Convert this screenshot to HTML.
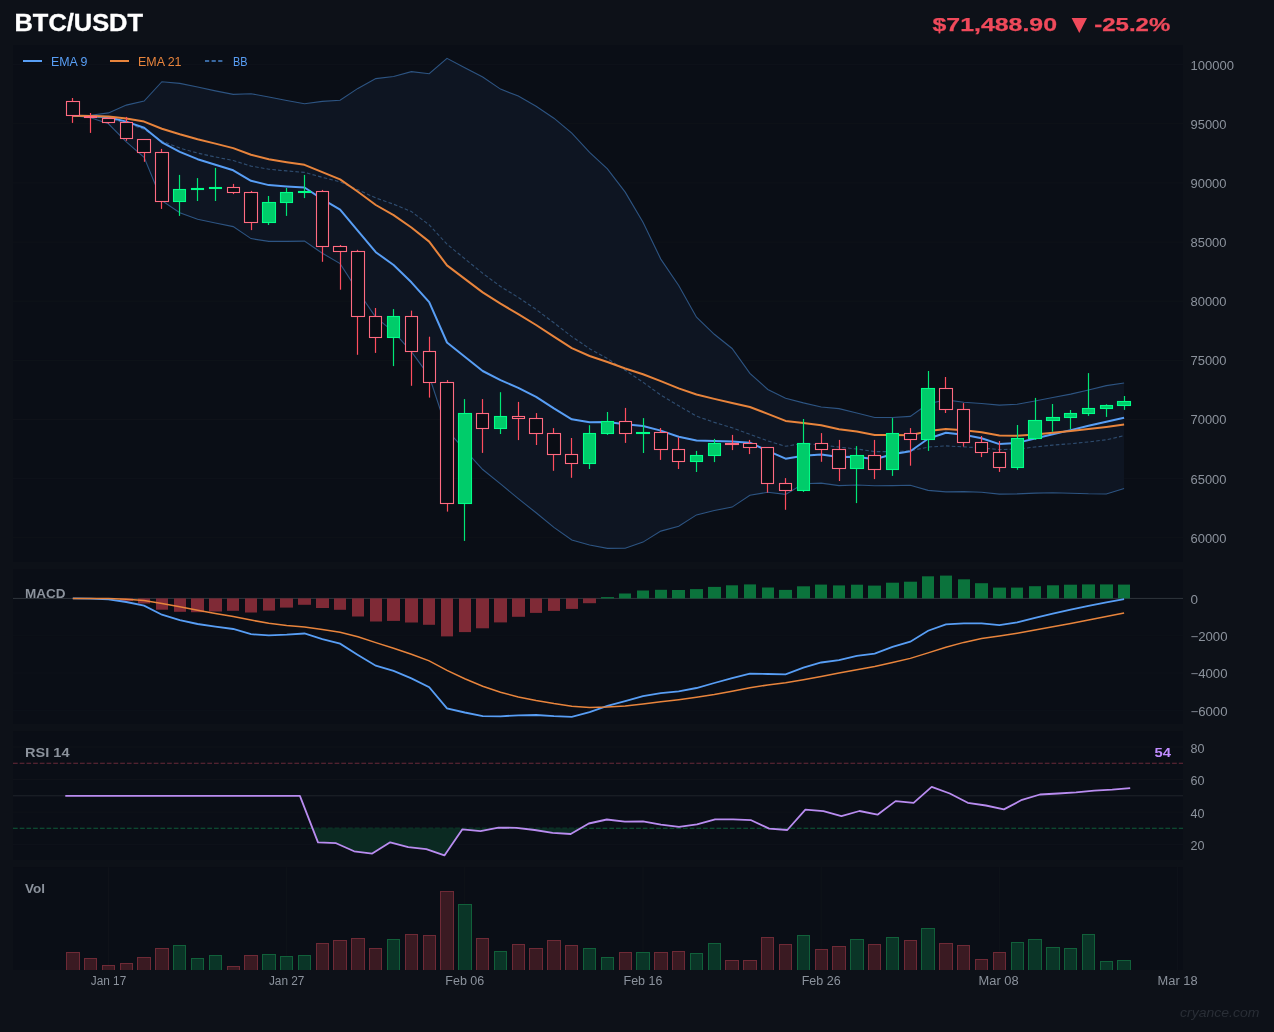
<!DOCTYPE html>
<html><head><meta charset="utf-8"><title>BTC/USDT</title>
<style>html,body{margin:0;padding:0;background:#0d1118;width:1274px;height:1032px;overflow:hidden}</style>
</head><body>

<svg width="1274" height="1032" viewBox="0 0 1274 1032" style="display:block;will-change:transform">
<rect width="1274" height="1032" fill="#0d1118"/>
<rect x="13" y="45" width="1170" height="517" fill="#0a0e16"/>
<rect x="13" y="569.4" width="1170" height="154.60000000000002" fill="#0a0e16"/>
<rect x="13" y="731.2" width="1170" height="128.79999999999995" fill="#0a0e16"/>
<rect x="13" y="867.1" width="1170" height="102.89999999999998" fill="#0a0e16"/>
<line x1="108.5" y1="867.1" x2="108.5" y2="970" stroke="#10141b" stroke-width="0.8"/>
<line x1="286.7" y1="867.1" x2="286.7" y2="970" stroke="#10141b" stroke-width="0.8"/>
<line x1="464.8" y1="867.1" x2="464.8" y2="970" stroke="#10141b" stroke-width="0.8"/>
<line x1="643.0" y1="867.1" x2="643.0" y2="970" stroke="#10141b" stroke-width="0.8"/>
<line x1="821.2" y1="867.1" x2="821.2" y2="970" stroke="#10141b" stroke-width="0.8"/>
<line x1="999.4" y1="867.1" x2="999.4" y2="970" stroke="#10141b" stroke-width="0.8"/>
<line x1="1177.6" y1="867.1" x2="1177.6" y2="970" stroke="#10141b" stroke-width="0.8"/>
<line x1="13" y1="537.8" x2="1183" y2="537.8" stroke="#10141b" stroke-width="0.8"/>
<line x1="13" y1="478.6" x2="1183" y2="478.6" stroke="#10141b" stroke-width="0.8"/>
<line x1="13" y1="419.5" x2="1183" y2="419.5" stroke="#10141b" stroke-width="0.8"/>
<line x1="13" y1="360.4" x2="1183" y2="360.4" stroke="#10141b" stroke-width="0.8"/>
<line x1="13" y1="301.2" x2="1183" y2="301.2" stroke="#10141b" stroke-width="0.8"/>
<line x1="13" y1="242.1" x2="1183" y2="242.1" stroke="#10141b" stroke-width="0.8"/>
<line x1="13" y1="182.9" x2="1183" y2="182.9" stroke="#10141b" stroke-width="0.8"/>
<line x1="13" y1="123.8" x2="1183" y2="123.8" stroke="#10141b" stroke-width="0.8"/>
<line x1="13" y1="64.6" x2="1183" y2="64.6" stroke="#10141b" stroke-width="0.8"/>
<polygon points="72.8,115.8 90.7,115.2 108.5,112.9 126.3,105.1 144.1,101.0 161.9,81.7 179.8,83.4 197.6,87.0 215.4,90.9 233.2,94.4 251.0,93.7 268.8,97.0 286.7,100.5 304.5,103.7 322.3,101.4 340.1,100.2 357.9,88.4 375.8,78.6 393.6,76.5 411.4,71.6 429.2,73.7 447.0,58.3 464.8,67.8 482.7,77.0 500.5,89.1 518.3,96.1 536.1,106.3 553.9,118.2 571.8,133.2 589.6,152.4 607.4,168.9 625.2,192.1 643.0,222.3 660.8,259.1 678.7,285.5 696.5,317.2 714.3,334.3 732.1,348.5 749.9,373.4 767.8,389.5 785.6,398.2 803.4,402.9 821.2,407.0 839.0,408.6 856.8,413.0 874.7,417.5 892.5,417.5 910.3,416.4 928.1,403.8 945.9,399.9 963.8,402.2 981.6,403.5 999.4,405.1 1017.2,404.3 1035.0,401.0 1052.8,397.5 1070.7,394.1 1088.5,390.0 1106.3,385.6 1124.1,383.0 1124.1,488.5 1106.3,494.0 1088.5,493.8 1070.7,493.2 1052.8,492.8 1035.0,493.1 1017.2,493.9 999.4,494.1 981.6,492.2 963.8,491.6 945.9,491.9 928.1,490.4 910.3,485.3 892.5,485.6 874.7,485.7 856.8,485.0 839.0,485.6 821.2,483.1 803.4,483.7 785.6,494.4 767.8,492.3 749.9,495.2 732.1,507.1 714.3,510.5 696.5,514.9 678.7,526.2 660.8,531.1 643.0,542.1 625.2,548.2 607.4,548.4 589.6,545.0 571.8,540.0 553.9,527.4 536.1,512.8 518.3,498.6 500.5,483.9 482.7,469.5 464.8,449.8 447.0,430.1 429.2,376.1 411.4,351.6 393.6,331.9 375.8,317.4 357.9,291.2 340.1,263.6 322.3,253.2 304.5,241.1 286.7,241.4 268.8,241.4 251.0,238.6 233.2,226.6 215.4,223.0 197.6,219.3 179.8,212.7 161.9,200.6 144.1,157.3 126.3,141.8 108.5,123.8 90.7,117.7 72.8,115.8" fill="#0e1522"/>
<polyline points="72.8,115.8 90.7,115.2 108.5,112.9 126.3,105.1 144.1,101.0 161.9,81.7 179.8,83.4 197.6,87.0 215.4,90.9 233.2,94.4 251.0,93.7 268.8,97.0 286.7,100.5 304.5,103.7 322.3,101.4 340.1,100.2 357.9,88.4 375.8,78.6 393.6,76.5 411.4,71.6 429.2,73.7 447.0,58.3 464.8,67.8 482.7,77.0 500.5,89.1 518.3,96.1 536.1,106.3 553.9,118.2 571.8,133.2 589.6,152.4 607.4,168.9 625.2,192.1 643.0,222.3 660.8,259.1 678.7,285.5 696.5,317.2 714.3,334.3 732.1,348.5 749.9,373.4 767.8,389.5 785.6,398.2 803.4,402.9 821.2,407.0 839.0,408.6 856.8,413.0 874.7,417.5 892.5,417.5 910.3,416.4 928.1,403.8 945.9,399.9 963.8,402.2 981.6,403.5 999.4,405.1 1017.2,404.3 1035.0,401.0 1052.8,397.5 1070.7,394.1 1088.5,390.0 1106.3,385.6 1124.1,383.0" fill="none" stroke="#2d5482" stroke-width="1.1"/>
<polyline points="72.8,115.8 90.7,117.7 108.5,123.8 126.3,141.8 144.1,157.3 161.9,200.6 179.8,212.7 197.6,219.3 215.4,223.0 233.2,226.6 251.0,238.6 268.8,241.4 286.7,241.4 304.5,241.1 322.3,253.2 340.1,263.6 357.9,291.2 375.8,317.4 393.6,331.9 411.4,351.6 429.2,376.1 447.0,430.1 464.8,449.8 482.7,469.5 500.5,483.9 518.3,498.6 536.1,512.8 553.9,527.4 571.8,540.0 589.6,545.0 607.4,548.4 625.2,548.2 643.0,542.1 660.8,531.1 678.7,526.2 696.5,514.9 714.3,510.5 732.1,507.1 749.9,495.2 767.8,492.3 785.6,494.4 803.4,483.7 821.2,483.1 839.0,485.6 856.8,485.0 874.7,485.7 892.5,485.6 910.3,485.3 928.1,490.4 945.9,491.9 963.8,491.6 981.6,492.2 999.4,494.1 1017.2,493.9 1035.0,493.1 1052.8,492.8 1070.7,493.2 1088.5,493.8 1106.3,494.0 1124.1,488.5" fill="none" stroke="#2d5482" stroke-width="1.1"/>
<polyline points="72.8,115.8 90.7,116.4 108.5,118.3 126.3,123.4 144.1,129.2 161.9,141.1 179.8,148.1 197.6,153.1 215.4,157.0 233.2,160.5 251.0,166.1 268.8,169.2 286.7,170.9 304.5,172.4 322.3,177.3 340.1,181.9 357.9,189.8 375.8,198.0 393.6,204.2 411.4,211.6 429.2,224.9 447.0,244.2 464.8,258.8 482.7,273.3 500.5,286.5 518.3,297.4 536.1,309.5 553.9,322.8 571.8,336.6 589.6,348.7 607.4,358.6 625.2,370.2 643.0,382.2 660.8,395.1 678.7,405.8 696.5,416.1 714.3,422.4 732.1,427.8 749.9,434.3 767.8,440.9 785.6,446.3 803.4,443.3 821.2,445.1 839.0,447.1 856.8,449.0 874.7,451.6 892.5,451.6 910.3,450.8 928.1,447.1 945.9,445.9 963.8,446.9 981.6,447.9 999.4,449.6 1017.2,449.1 1035.0,447.0 1052.8,445.1 1070.7,443.7 1088.5,441.9 1106.3,439.8 1124.1,435.7" fill="none" stroke="#2f4d70" stroke-width="1.1" stroke-dasharray="3.6 2.2"/>
<polyline points="72.8,115.8 90.7,116.0 108.5,117.3 126.3,121.6 144.1,127.7 161.9,142.3 179.8,151.8 197.6,159.2 215.4,164.8 233.2,170.3 251.0,180.8 268.8,185.1 286.7,186.5 304.5,187.5 322.3,199.2 340.1,209.6 357.9,230.9 375.8,252.2 393.6,265.0 411.4,282.3 429.2,302.2 447.0,342.5 464.8,356.7 482.7,371.0 500.5,380.2 518.3,387.8 536.1,396.9 553.9,408.4 571.8,419.3 589.6,422.2 607.4,422.1 625.2,424.3 643.0,426.0 660.8,430.6 678.7,436.7 696.5,440.5 714.3,441.1 732.1,441.6 749.9,442.7 767.8,450.8 785.6,458.7 803.4,455.7 821.2,454.4 839.0,457.1 856.8,456.8 874.7,459.3 892.5,454.2 910.3,451.2 928.1,438.7 945.9,432.8 963.8,434.7 981.6,438.2 999.4,444.1 1017.2,442.9 1035.0,438.5 1052.8,434.3 1070.7,430.1 1088.5,425.8 1106.3,421.7 1124.1,417.7" fill="none" stroke="#589ef5" stroke-width="2" stroke-linejoin="round"/>
<polyline points="72.8,115.8 90.7,115.9 108.5,116.5 126.3,118.5 144.1,121.6 161.9,128.8 179.8,134.3 197.6,139.3 215.4,143.6 233.2,148.1 251.0,154.8 268.8,159.2 286.7,162.2 304.5,164.8 322.3,172.2 340.1,179.4 357.9,191.8 375.8,205.0 393.6,215.1 411.4,227.5 429.2,241.6 447.0,265.4 464.8,278.9 482.7,292.4 500.5,303.7 518.3,314.1 536.1,325.0 553.9,336.7 571.8,348.2 589.6,356.0 607.4,362.0 625.2,368.5 643.0,374.3 660.8,381.1 678.7,388.4 696.5,394.5 714.3,398.9 732.1,403.0 749.9,407.0 767.8,413.9 785.6,420.9 803.4,422.9 821.2,425.3 839.0,429.2 856.8,431.6 874.7,435.0 892.5,434.9 910.3,435.3 928.1,431.1 945.9,429.1 963.8,430.3 981.6,432.3 999.4,435.5 1017.2,435.7 1035.0,434.4 1052.8,432.8 1070.7,431.1 1088.5,429.0 1106.3,426.9 1124.1,424.6" fill="none" stroke="#e8843c" stroke-width="2" stroke-linejoin="round"/>
<line x1="72.5" y1="98.0" x2="72.5" y2="122.9" stroke="#ff4d5e" stroke-width="1.2"/>
<line x1="90.5" y1="113.0" x2="90.5" y2="132.9" stroke="#ff4d5e" stroke-width="1.2"/>
<line x1="108.5" y1="117.6" x2="108.5" y2="123.7" stroke="#ff4d5e" stroke-width="1.2"/>
<line x1="126.5" y1="116.9" x2="126.5" y2="140.8" stroke="#ff4d5e" stroke-width="1.2"/>
<line x1="144.5" y1="139.3" x2="144.5" y2="161.8" stroke="#ff4d5e" stroke-width="1.2"/>
<line x1="161.5" y1="148.9" x2="161.5" y2="208.9" stroke="#ff4d5e" stroke-width="1.2"/>
<line x1="179.5" y1="174.9" x2="179.5" y2="215.9" stroke="#00e676" stroke-width="1.2"/>
<line x1="197.5" y1="178.1" x2="197.5" y2="201.0" stroke="#00e676" stroke-width="1.2"/>
<line x1="215.5" y1="167.9" x2="215.5" y2="201.0" stroke="#00e676" stroke-width="1.2"/>
<line x1="233.5" y1="183.9" x2="233.5" y2="194.1" stroke="#ff4d5e" stroke-width="1.2"/>
<line x1="251.5" y1="190.9" x2="251.5" y2="230.1" stroke="#ff4d5e" stroke-width="1.2"/>
<line x1="268.5" y1="196.0" x2="268.5" y2="225.0" stroke="#00e676" stroke-width="1.2"/>
<line x1="286.5" y1="188.0" x2="286.5" y2="215.9" stroke="#00e676" stroke-width="1.2"/>
<line x1="304.5" y1="174.9" x2="304.5" y2="198.1" stroke="#00e676" stroke-width="1.2"/>
<line x1="322.5" y1="189.9" x2="322.5" y2="261.8" stroke="#ff4d5e" stroke-width="1.2"/>
<line x1="340.5" y1="245.0" x2="340.5" y2="289.7" stroke="#ff4d5e" stroke-width="1.2"/>
<line x1="357.5" y1="249.8" x2="357.5" y2="354.8" stroke="#ff4d5e" stroke-width="1.2"/>
<line x1="375.5" y1="308.0" x2="375.5" y2="352.9" stroke="#ff4d5e" stroke-width="1.2"/>
<line x1="393.5" y1="309.1" x2="393.5" y2="366.1" stroke="#00e676" stroke-width="1.2"/>
<line x1="411.5" y1="310.6" x2="411.5" y2="385.8" stroke="#ff4d5e" stroke-width="1.2"/>
<line x1="429.5" y1="336.7" x2="429.5" y2="397.6" stroke="#ff4d5e" stroke-width="1.2"/>
<line x1="447.5" y1="380.1" x2="447.5" y2="511.6" stroke="#ff4d5e" stroke-width="1.2"/>
<line x1="464.5" y1="399.1" x2="464.5" y2="540.9" stroke="#00e676" stroke-width="1.2"/>
<line x1="482.5" y1="399.1" x2="482.5" y2="452.9" stroke="#ff4d5e" stroke-width="1.2"/>
<line x1="500.5" y1="392.2" x2="500.5" y2="434.0" stroke="#00e676" stroke-width="1.2"/>
<line x1="518.5" y1="401.9" x2="518.5" y2="440.1" stroke="#ff4d5e" stroke-width="1.2"/>
<line x1="536.5" y1="413.1" x2="536.5" y2="445.0" stroke="#ff4d5e" stroke-width="1.2"/>
<line x1="553.5" y1="428.1" x2="553.5" y2="470.8" stroke="#ff4d5e" stroke-width="1.2"/>
<line x1="571.5" y1="438.0" x2="571.5" y2="477.8" stroke="#ff4d5e" stroke-width="1.2"/>
<line x1="589.5" y1="425.2" x2="589.5" y2="469.0" stroke="#00e676" stroke-width="1.2"/>
<line x1="607.5" y1="412.0" x2="607.5" y2="434.9" stroke="#00e676" stroke-width="1.2"/>
<line x1="625.5" y1="407.9" x2="625.5" y2="442.9" stroke="#ff4d5e" stroke-width="1.2"/>
<line x1="643.5" y1="418.1" x2="643.5" y2="453.0" stroke="#00e676" stroke-width="1.2"/>
<line x1="660.5" y1="428.0" x2="660.5" y2="459.9" stroke="#ff4d5e" stroke-width="1.2"/>
<line x1="678.5" y1="437.4" x2="678.5" y2="469.0" stroke="#ff4d5e" stroke-width="1.2"/>
<line x1="696.5" y1="450.9" x2="696.5" y2="472.0" stroke="#00e676" stroke-width="1.2"/>
<line x1="714.5" y1="438.9" x2="714.5" y2="462.1" stroke="#00e676" stroke-width="1.2"/>
<line x1="732.5" y1="434.9" x2="732.5" y2="450.1" stroke="#ff4d5e" stroke-width="1.2"/>
<line x1="749.5" y1="439.9" x2="749.5" y2="454.1" stroke="#ff4d5e" stroke-width="1.2"/>
<line x1="767.5" y1="447.0" x2="767.5" y2="492.6" stroke="#ff4d5e" stroke-width="1.2"/>
<line x1="785.5" y1="478.1" x2="785.5" y2="509.8" stroke="#ff4d5e" stroke-width="1.2"/>
<line x1="803.5" y1="419.0" x2="803.5" y2="491.9" stroke="#00e676" stroke-width="1.2"/>
<line x1="821.5" y1="433.1" x2="821.5" y2="461.8" stroke="#ff4d5e" stroke-width="1.2"/>
<line x1="839.5" y1="439.9" x2="839.5" y2="481.0" stroke="#ff4d5e" stroke-width="1.2"/>
<line x1="856.5" y1="446.1" x2="856.5" y2="503.1" stroke="#00e676" stroke-width="1.2"/>
<line x1="874.5" y1="439.9" x2="874.5" y2="479.1" stroke="#ff4d5e" stroke-width="1.2"/>
<line x1="892.5" y1="418.1" x2="892.5" y2="475.9" stroke="#00e676" stroke-width="1.2"/>
<line x1="910.5" y1="428.1" x2="910.5" y2="465.7" stroke="#ff4d5e" stroke-width="1.2"/>
<line x1="928.5" y1="371.0" x2="928.5" y2="450.9" stroke="#00e676" stroke-width="1.2"/>
<line x1="945.5" y1="377.0" x2="945.5" y2="413.0" stroke="#ff4d5e" stroke-width="1.2"/>
<line x1="963.5" y1="403.1" x2="963.5" y2="446.6" stroke="#ff4d5e" stroke-width="1.2"/>
<line x1="981.5" y1="436.0" x2="981.5" y2="457.1" stroke="#ff4d5e" stroke-width="1.2"/>
<line x1="999.5" y1="441.0" x2="999.5" y2="471.9" stroke="#ff4d5e" stroke-width="1.2"/>
<line x1="1017.5" y1="425.0" x2="1017.5" y2="469.8" stroke="#00e676" stroke-width="1.2"/>
<line x1="1035.5" y1="397.9" x2="1035.5" y2="439.9" stroke="#00e676" stroke-width="1.2"/>
<line x1="1052.5" y1="404.0" x2="1052.5" y2="431.7" stroke="#00e676" stroke-width="1.2"/>
<line x1="1070.5" y1="410.0" x2="1070.5" y2="429.1" stroke="#00e676" stroke-width="1.2"/>
<line x1="1088.5" y1="373.1" x2="1088.5" y2="415.9" stroke="#00e676" stroke-width="1.2"/>
<line x1="1106.5" y1="404.3" x2="1106.5" y2="416.9" stroke="#00e676" stroke-width="1.2"/>
<line x1="1124.5" y1="396.0" x2="1124.5" y2="409.9" stroke="#00e676" stroke-width="1.2"/>
<rect x="66.5" y="101.5" width="13.0" height="14.0" fill="#0a0d15" stroke="#ff6b81" stroke-width="1.1"/>
<rect x="84.5" y="116.5" width="12.0" height="1.0" fill="#0a0d15" stroke="#ff6b81" stroke-width="1.1"/>
<rect x="102.5" y="118.5" width="12.0" height="4.0" fill="#0a0d15" stroke="#ff6b81" stroke-width="1.1"/>
<rect x="120.5" y="122.5" width="12.0" height="16.0" fill="#0a0d15" stroke="#ff6b81" stroke-width="1.1"/>
<rect x="137.5" y="139.5" width="13.0" height="13.0" fill="#0a0d15" stroke="#ff6b81" stroke-width="1.1"/>
<rect x="155.5" y="152.5" width="13.0" height="49.0" fill="#0a0d15" stroke="#ff6b81" stroke-width="1.1"/>
<rect x="173.5" y="189.5" width="12.0" height="12.0" fill="#00cc6a" stroke="#00ff88" stroke-width="1.1"/>
<rect x="191.5" y="188.5" width="12.0" height="1.0" fill="#00cc6a" stroke="#00ff88" stroke-width="1.1"/>
<rect x="209.5" y="187.5" width="12.0" height="1.0" fill="#00cc6a" stroke="#00ff88" stroke-width="1.1"/>
<rect x="227.5" y="187.5" width="12.0" height="5.0" fill="#0a0d15" stroke="#ff6b81" stroke-width="1.1"/>
<rect x="244.5" y="192.5" width="13.0" height="30.0" fill="#0a0d15" stroke="#ff6b81" stroke-width="1.1"/>
<rect x="262.5" y="202.5" width="13.0" height="20.0" fill="#00cc6a" stroke="#00ff88" stroke-width="1.1"/>
<rect x="280.5" y="192.5" width="12.0" height="10.0" fill="#00cc6a" stroke="#00ff88" stroke-width="1.1"/>
<rect x="298.5" y="191.5" width="12.0" height="1.0" fill="#00cc6a" stroke="#00ff88" stroke-width="1.1"/>
<rect x="316.5" y="191.5" width="12.0" height="55.0" fill="#0a0d15" stroke="#ff6b81" stroke-width="1.1"/>
<rect x="333.5" y="246.5" width="13.0" height="5.0" fill="#0a0d15" stroke="#ff6b81" stroke-width="1.1"/>
<rect x="351.5" y="251.5" width="13.0" height="65.0" fill="#0a0d15" stroke="#ff6b81" stroke-width="1.1"/>
<rect x="369.5" y="316.5" width="12.0" height="21.0" fill="#0a0d15" stroke="#ff6b81" stroke-width="1.1"/>
<rect x="387.5" y="316.5" width="12.0" height="21.0" fill="#00cc6a" stroke="#00ff88" stroke-width="1.1"/>
<rect x="405.5" y="316.5" width="12.0" height="35.0" fill="#0a0d15" stroke="#ff6b81" stroke-width="1.1"/>
<rect x="423.5" y="351.5" width="12.0" height="31.0" fill="#0a0d15" stroke="#ff6b81" stroke-width="1.1"/>
<rect x="440.5" y="382.5" width="13.0" height="121.0" fill="#0a0d15" stroke="#ff6b81" stroke-width="1.1"/>
<rect x="458.5" y="413.5" width="13.0" height="90.0" fill="#00cc6a" stroke="#00ff88" stroke-width="1.1"/>
<rect x="476.5" y="413.5" width="12.0" height="15.0" fill="#0a0d15" stroke="#ff6b81" stroke-width="1.1"/>
<rect x="494.5" y="416.5" width="12.0" height="12.0" fill="#00cc6a" stroke="#00ff88" stroke-width="1.1"/>
<rect x="512.5" y="416.5" width="12.0" height="2.0" fill="#0a0d15" stroke="#ff6b81" stroke-width="1.1"/>
<rect x="529.5" y="418.5" width="13.0" height="15.0" fill="#0a0d15" stroke="#ff6b81" stroke-width="1.1"/>
<rect x="547.5" y="433.5" width="13.0" height="21.0" fill="#0a0d15" stroke="#ff6b81" stroke-width="1.1"/>
<rect x="565.5" y="454.5" width="12.0" height="9.0" fill="#0a0d15" stroke="#ff6b81" stroke-width="1.1"/>
<rect x="583.5" y="433.5" width="12.0" height="30.0" fill="#00cc6a" stroke="#00ff88" stroke-width="1.1"/>
<rect x="601.5" y="421.5" width="12.0" height="12.0" fill="#00cc6a" stroke="#00ff88" stroke-width="1.1"/>
<rect x="619.5" y="421.5" width="12.0" height="12.0" fill="#0a0d15" stroke="#ff6b81" stroke-width="1.1"/>
<rect x="636.5" y="432.5" width="13.0" height="1.0" fill="#00cc6a" stroke="#00ff88" stroke-width="1.1"/>
<rect x="654.5" y="432.5" width="13.0" height="17.0" fill="#0a0d15" stroke="#ff6b81" stroke-width="1.1"/>
<rect x="672.5" y="449.5" width="12.0" height="12.0" fill="#0a0d15" stroke="#ff6b81" stroke-width="1.1"/>
<rect x="690.5" y="455.5" width="12.0" height="6.0" fill="#00cc6a" stroke="#00ff88" stroke-width="1.1"/>
<rect x="708.5" y="443.5" width="12.0" height="12.0" fill="#00cc6a" stroke="#00ff88" stroke-width="1.1"/>
<rect x="725.5" y="443.5" width="13.0" height="1.0" fill="#0a0d15" stroke="#ff6b81" stroke-width="1.1"/>
<rect x="743.5" y="443.5" width="13.0" height="4.0" fill="#0a0d15" stroke="#ff6b81" stroke-width="1.1"/>
<rect x="761.5" y="447.5" width="12.0" height="36.0" fill="#0a0d15" stroke="#ff6b81" stroke-width="1.1"/>
<rect x="779.5" y="483.5" width="12.0" height="7.0" fill="#0a0d15" stroke="#ff6b81" stroke-width="1.1"/>
<rect x="797.5" y="443.5" width="12.0" height="47.0" fill="#00cc6a" stroke="#00ff88" stroke-width="1.1"/>
<rect x="815.5" y="443.5" width="12.0" height="6.0" fill="#0a0d15" stroke="#ff6b81" stroke-width="1.1"/>
<rect x="832.5" y="449.5" width="13.0" height="19.0" fill="#0a0d15" stroke="#ff6b81" stroke-width="1.1"/>
<rect x="850.5" y="455.5" width="13.0" height="13.0" fill="#00cc6a" stroke="#00ff88" stroke-width="1.1"/>
<rect x="868.5" y="455.5" width="12.0" height="14.0" fill="#0a0d15" stroke="#ff6b81" stroke-width="1.1"/>
<rect x="886.5" y="433.5" width="12.0" height="36.0" fill="#00cc6a" stroke="#00ff88" stroke-width="1.1"/>
<rect x="904.5" y="433.5" width="12.0" height="6.0" fill="#0a0d15" stroke="#ff6b81" stroke-width="1.1"/>
<rect x="921.5" y="388.5" width="13.0" height="51.0" fill="#00cc6a" stroke="#00ff88" stroke-width="1.1"/>
<rect x="939.5" y="388.5" width="13.0" height="21.0" fill="#0a0d15" stroke="#ff6b81" stroke-width="1.1"/>
<rect x="957.5" y="409.5" width="12.0" height="33.0" fill="#0a0d15" stroke="#ff6b81" stroke-width="1.1"/>
<rect x="975.5" y="442.5" width="12.0" height="10.0" fill="#0a0d15" stroke="#ff6b81" stroke-width="1.1"/>
<rect x="993.5" y="452.5" width="12.0" height="15.0" fill="#0a0d15" stroke="#ff6b81" stroke-width="1.1"/>
<rect x="1011.5" y="438.5" width="12.0" height="29.0" fill="#00cc6a" stroke="#00ff88" stroke-width="1.1"/>
<rect x="1028.5" y="420.5" width="13.0" height="18.0" fill="#00cc6a" stroke="#00ff88" stroke-width="1.1"/>
<rect x="1046.5" y="417.5" width="13.0" height="3.0" fill="#00cc6a" stroke="#00ff88" stroke-width="1.1"/>
<rect x="1064.5" y="413.5" width="12.0" height="4.0" fill="#00cc6a" stroke="#00ff88" stroke-width="1.1"/>
<rect x="1082.5" y="408.5" width="12.0" height="5.0" fill="#00cc6a" stroke="#00ff88" stroke-width="1.1"/>
<rect x="1100.5" y="405.5" width="12.0" height="3.0" fill="#00cc6a" stroke="#00ff88" stroke-width="1.1"/>
<rect x="1117.5" y="401.5" width="13.0" height="4.0" fill="#00cc6a" stroke="#00ff88" stroke-width="1.1"/>
<line x1="23" y1="61" x2="42" y2="61" stroke="#589ef5" stroke-width="2"/>
<text x="51" y="65.7" font-family="Liberation Sans, sans-serif" font-size="12" fill="#589ef5" textLength="36.5" lengthAdjust="spacingAndGlyphs">EMA 9</text>
<line x1="110" y1="61" x2="129" y2="61" stroke="#e8843c" stroke-width="2"/>
<text x="138" y="65.7" font-family="Liberation Sans, sans-serif" font-size="12" fill="#e8843c" textLength="43.5" lengthAdjust="spacingAndGlyphs">EMA 21</text>
<line x1="205" y1="61" x2="224" y2="61" stroke="#4a86d0" stroke-width="1.4" stroke-dasharray="4.2 2.4"/>
<text x="233" y="65.7" font-family="Liberation Sans, sans-serif" font-size="12" fill="#589ef5" textLength="14.5" lengthAdjust="spacingAndGlyphs">BB</text>
<text x="1190.5" y="542.7" font-family="Liberation Sans, sans-serif" font-size="12.3" fill="#8b929c" textLength="36" lengthAdjust="spacingAndGlyphs">60000</text>
<text x="1190.5" y="483.5" font-family="Liberation Sans, sans-serif" font-size="12.3" fill="#8b929c" textLength="36" lengthAdjust="spacingAndGlyphs">65000</text>
<text x="1190.5" y="424.4" font-family="Liberation Sans, sans-serif" font-size="12.3" fill="#8b929c" textLength="36" lengthAdjust="spacingAndGlyphs">70000</text>
<text x="1190.5" y="365.2" font-family="Liberation Sans, sans-serif" font-size="12.3" fill="#8b929c" textLength="36" lengthAdjust="spacingAndGlyphs">75000</text>
<text x="1190.5" y="306.1" font-family="Liberation Sans, sans-serif" font-size="12.3" fill="#8b929c" textLength="36" lengthAdjust="spacingAndGlyphs">80000</text>
<text x="1190.5" y="247.0" font-family="Liberation Sans, sans-serif" font-size="12.3" fill="#8b929c" textLength="36" lengthAdjust="spacingAndGlyphs">85000</text>
<text x="1190.5" y="187.8" font-family="Liberation Sans, sans-serif" font-size="12.3" fill="#8b929c" textLength="36" lengthAdjust="spacingAndGlyphs">90000</text>
<text x="1190.5" y="128.7" font-family="Liberation Sans, sans-serif" font-size="12.3" fill="#8b929c" textLength="36" lengthAdjust="spacingAndGlyphs">95000</text>
<text x="1190.5" y="69.5" font-family="Liberation Sans, sans-serif" font-size="12.3" fill="#8b929c" textLength="43.5" lengthAdjust="spacingAndGlyphs">100000</text>
<line x1="13" y1="635.7" x2="1183" y2="635.7" stroke="#0e1219" stroke-width="0.8"/>
<line x1="13" y1="673.0" x2="1183" y2="673.0" stroke="#0e1219" stroke-width="0.8"/>
<line x1="13" y1="710.3" x2="1183" y2="710.3" stroke="#0e1219" stroke-width="0.8"/>
<line x1="13" y1="598.4" x2="1183" y2="598.4" stroke="#30363d" stroke-width="1"/>
<rect x="67" y="598.4" width="12" height="0.0" fill="#0b733c"/>
<rect x="84" y="598.4" width="13" height="0.1" fill="#7f2a36"/>
<rect x="102" y="598.4" width="13" height="0.7" fill="#7f2a36"/>
<rect x="120" y="598.4" width="13" height="2.7" fill="#7f2a36"/>
<rect x="138" y="598.4" width="12" height="5.1" fill="#7f2a36"/>
<rect x="156" y="598.4" width="12" height="11.3" fill="#7f2a36"/>
<rect x="174" y="598.4" width="12" height="13.4" fill="#7f2a36"/>
<rect x="191" y="598.4" width="13" height="13.8" fill="#7f2a36"/>
<rect x="209" y="598.4" width="13" height="13.1" fill="#7f2a36"/>
<rect x="227" y="598.4" width="12" height="12.4" fill="#7f2a36"/>
<rect x="245" y="598.4" width="12" height="14.1" fill="#7f2a36"/>
<rect x="263" y="598.4" width="12" height="12.2" fill="#7f2a36"/>
<rect x="280" y="598.4" width="13" height="9.2" fill="#7f2a36"/>
<rect x="298" y="598.4" width="13" height="6.4" fill="#7f2a36"/>
<rect x="316" y="598.4" width="13" height="9.6" fill="#7f2a36"/>
<rect x="334" y="598.4" width="12" height="11.4" fill="#7f2a36"/>
<rect x="352" y="598.4" width="12" height="18.1" fill="#7f2a36"/>
<rect x="370" y="598.4" width="12" height="23.1" fill="#7f2a36"/>
<rect x="387" y="598.4" width="13" height="22.5" fill="#7f2a36"/>
<rect x="405" y="598.4" width="13" height="24.1" fill="#7f2a36"/>
<rect x="423" y="598.4" width="12" height="26.4" fill="#7f2a36"/>
<rect x="441" y="598.4" width="12" height="38.0" fill="#7f2a36"/>
<rect x="459" y="598.4" width="12" height="33.7" fill="#7f2a36"/>
<rect x="476" y="598.4" width="13" height="29.9" fill="#7f2a36"/>
<rect x="494" y="598.4" width="13" height="24.0" fill="#7f2a36"/>
<rect x="512" y="598.4" width="13" height="18.4" fill="#7f2a36"/>
<rect x="530" y="598.4" width="12" height="14.5" fill="#7f2a36"/>
<rect x="548" y="598.4" width="12" height="12.5" fill="#7f2a36"/>
<rect x="566" y="598.4" width="12" height="10.5" fill="#7f2a36"/>
<rect x="583" y="598.4" width="13" height="4.8" fill="#7f2a36"/>
<rect x="601" y="597.1" width="13" height="1.3" fill="#0b733c"/>
<rect x="619" y="593.5" width="12" height="4.9" fill="#0b733c"/>
<rect x="637" y="590.5" width="12" height="7.9" fill="#0b733c"/>
<rect x="655" y="589.8" width="12" height="8.6" fill="#0b733c"/>
<rect x="672" y="590.0" width="13" height="8.4" fill="#0b733c"/>
<rect x="690" y="589.1" width="13" height="9.3" fill="#0b733c"/>
<rect x="708" y="586.9" width="13" height="11.5" fill="#0b733c"/>
<rect x="726" y="585.3" width="12" height="13.1" fill="#0b733c"/>
<rect x="744" y="584.4" width="12" height="14.0" fill="#0b733c"/>
<rect x="762" y="587.5" width="12" height="10.9" fill="#0b733c"/>
<rect x="779" y="589.9" width="13" height="8.5" fill="#0b733c"/>
<rect x="797" y="586.3" width="13" height="12.1" fill="#0b733c"/>
<rect x="815" y="584.6" width="12" height="13.8" fill="#0b733c"/>
<rect x="833" y="585.4" width="12" height="13.0" fill="#0b733c"/>
<rect x="851" y="584.7" width="12" height="13.7" fill="#0b733c"/>
<rect x="868" y="585.6" width="13" height="12.8" fill="#0b733c"/>
<rect x="886" y="582.7" width="13" height="15.7" fill="#0b733c"/>
<rect x="904" y="581.7" width="13" height="16.7" fill="#0b733c"/>
<rect x="922" y="576.3" width="12" height="22.1" fill="#0b733c"/>
<rect x="940" y="575.6" width="12" height="22.8" fill="#0b733c"/>
<rect x="958" y="579.3" width="12" height="19.1" fill="#0b733c"/>
<rect x="975" y="583.2" width="13" height="15.2" fill="#0b733c"/>
<rect x="993" y="587.6" width="13" height="10.8" fill="#0b733c"/>
<rect x="1011" y="587.6" width="12" height="10.8" fill="#0b733c"/>
<rect x="1029" y="586.2" width="12" height="12.2" fill="#0b733c"/>
<rect x="1047" y="585.3" width="12" height="13.1" fill="#0b733c"/>
<rect x="1064" y="584.7" width="13" height="13.7" fill="#0b733c"/>
<rect x="1082" y="584.4" width="13" height="14.0" fill="#0b733c"/>
<rect x="1100" y="584.4" width="13" height="14.0" fill="#0b733c"/>
<rect x="1118" y="584.6" width="12" height="13.8" fill="#0b733c"/>
<polyline points="72.8,598.4 90.7,598.6 108.5,599.3 126.3,602.0 144.1,605.7 161.9,614.7 179.8,620.1 197.6,624.0 215.4,626.6 233.2,629.0 251.0,634.2 268.8,635.4 286.7,634.7 304.5,633.5 322.3,639.1 340.1,643.7 357.9,654.9 375.8,665.7 393.6,670.8 411.4,678.4 429.2,687.2 447.0,708.4 464.8,712.5 482.7,716.2 500.5,716.3 518.3,715.3 536.1,715.0 553.9,716.1 571.8,716.8 589.6,712.2 607.4,705.8 625.2,701.1 643.0,696.1 660.8,693.1 678.7,691.3 696.5,688.0 714.3,683.0 732.1,678.1 749.9,673.7 767.8,674.0 785.6,674.3 803.4,667.7 821.2,662.5 839.0,660.1 856.8,655.9 874.7,653.7 892.5,646.9 910.3,641.7 928.1,630.7 945.9,624.4 963.8,623.3 981.6,623.4 999.4,625.1 1017.2,622.4 1035.0,617.9 1052.8,613.7 1070.7,609.7 1088.5,605.9 1106.3,602.4 1124.1,599.1" fill="none" stroke="#589ef5" stroke-width="1.8"/>
<polyline points="72.8,598.4 90.7,598.4 108.5,598.6 126.3,599.3 144.1,600.6 161.9,603.4 179.8,606.8 197.6,610.2 215.4,613.5 233.2,616.6 251.0,620.1 268.8,623.2 286.7,625.5 304.5,627.1 322.3,629.5 340.1,632.3 357.9,636.8 375.8,642.6 393.6,648.3 411.4,654.3 429.2,660.9 447.0,670.4 464.8,678.8 482.7,686.3 500.5,692.3 518.3,696.9 536.1,700.5 553.9,703.6 571.8,706.3 589.6,707.4 607.4,707.1 625.2,705.9 643.0,703.9 660.8,701.8 678.7,699.7 696.5,697.3 714.3,694.5 732.1,691.2 749.9,687.7 767.8,685.0 785.6,682.8 803.4,679.8 821.2,676.4 839.0,673.1 856.8,669.7 874.7,666.5 892.5,662.6 910.3,658.4 928.1,652.9 945.9,647.2 963.8,642.4 981.6,638.6 999.4,635.9 1017.2,633.2 1035.0,630.1 1052.8,626.8 1070.7,623.4 1088.5,619.9 1106.3,616.4 1124.1,612.9" fill="none" stroke="#e8843c" stroke-width="1.5"/>
<text x="1190.5" y="603.6" font-family="Liberation Sans, sans-serif" font-size="12.3" fill="#8b929c" textLength="7.5" lengthAdjust="spacingAndGlyphs">0</text>
<text x="1190.5" y="640.9" font-family="Liberation Sans, sans-serif" font-size="12.3" fill="#8b929c" textLength="37" lengthAdjust="spacingAndGlyphs">−2000</text>
<text x="1190.5" y="678.2" font-family="Liberation Sans, sans-serif" font-size="12.3" fill="#8b929c" textLength="37" lengthAdjust="spacingAndGlyphs">−4000</text>
<text x="1190.5" y="715.5" font-family="Liberation Sans, sans-serif" font-size="12.3" fill="#8b929c" textLength="37" lengthAdjust="spacingAndGlyphs">−6000</text>
<text x="25" y="597.8" font-family="Liberation Sans, sans-serif" font-weight="bold" font-size="12.5" fill="#8b929c" textLength="40.5" lengthAdjust="spacingAndGlyphs">MACD</text>
<line x1="13" y1="844.6" x2="1183" y2="844.6" stroke="#10141b" stroke-width="0.8"/>
<line x1="13" y1="812.1" x2="1183" y2="812.1" stroke="#10141b" stroke-width="0.8"/>
<line x1="13" y1="779.5" x2="1183" y2="779.5" stroke="#10141b" stroke-width="0.8"/>
<line x1="13" y1="747.0" x2="1183" y2="747.0" stroke="#10141b" stroke-width="0.8"/>
<line x1="13" y1="763.2" x2="1183" y2="763.2" stroke="#6a2a3a" stroke-width="1.1" stroke-dasharray="4.7 2"/>
<line x1="13" y1="795.8" x2="1183" y2="795.8" stroke="#1f242c" stroke-width="1"/>
<line x1="13" y1="828.3" x2="1183" y2="828.3" stroke="#0f5c3a" stroke-width="1.1" stroke-dasharray="4.7 2"/>
<polygon points="312.6,828.3 312.6,828.3 318.0,842.3 336.1,843.2 354.1,851.3 372.2,853.6 390.2,842.3 408.2,847.1 426.3,849.2 444.4,855.4 462.4,829.3 480.5,831.1 494.7,828.3 494.7,828.3" fill="#0b2a22"/>
<polygon points="521.1,828.3 521.1,828.3 534.6,830.0 552.6,832.8 570.7,834.0 580.4,828.3 580.4,828.3" fill="#0b2a22"/>
<polygon points="768.7,828.3 768.7,828.3 769.2,828.6 787.3,830.0 788.8,828.3 788.8,828.3" fill="#0b2a22"/>
<polyline points="65.3,795.8 83.3,795.8 101.4,795.8 119.5,795.8 137.5,795.8 155.6,795.8 173.6,795.8 191.7,795.8 209.7,795.8 227.8,795.8 245.8,795.8 263.9,795.8 281.9,795.8 299.9,795.8 318.0,842.3 336.1,843.2 354.1,851.3 372.2,853.6 390.2,842.3 408.2,847.1 426.3,849.2 444.4,855.4 462.4,829.3 480.5,831.1 498.5,827.6 516.5,827.8 534.6,830.0 552.6,832.8 570.7,834.0 588.8,823.5 606.8,819.5 624.9,821.6 642.9,821.4 660.9,824.6 679.0,826.9 697.0,824.4 715.1,819.3 733.1,819.4 751.2,820.2 769.2,828.6 787.3,830.0 805.4,809.7 823.4,811.2 841.4,816.1 859.5,811.0 877.5,814.7 895.6,801.1 913.6,802.8 931.7,786.8 949.8,793.5 967.8,802.8 985.9,805.5 1003.9,809.4 1022.0,799.8 1040.0,794.5 1058.0,793.5 1076.1,792.3 1094.2,790.6 1112.2,789.6 1130.2,788.2" fill="none" stroke="#b98cf0" stroke-width="1.8" stroke-linejoin="round"/>
<text x="1190.5" y="850.2" font-family="Liberation Sans, sans-serif" font-size="12.3" fill="#8b929c" textLength="14" lengthAdjust="spacingAndGlyphs">20</text>
<text x="1190.5" y="817.7" font-family="Liberation Sans, sans-serif" font-size="12.3" fill="#8b929c" textLength="14" lengthAdjust="spacingAndGlyphs">40</text>
<text x="1190.5" y="785.1" font-family="Liberation Sans, sans-serif" font-size="12.3" fill="#8b929c" textLength="14" lengthAdjust="spacingAndGlyphs">60</text>
<text x="1190.5" y="752.6" font-family="Liberation Sans, sans-serif" font-size="12.3" fill="#8b929c" textLength="14" lengthAdjust="spacingAndGlyphs">80</text>
<text x="25" y="756.7" font-family="Liberation Sans, sans-serif" font-weight="bold" font-size="12.5" fill="#8b929c" textLength="44.5" lengthAdjust="spacingAndGlyphs">RSI 14</text>
<text x="1154.5" y="757.1" font-family="Liberation Sans, sans-serif" font-weight="bold" font-size="13" fill="#c08cff" textLength="16.5" lengthAdjust="spacingAndGlyphs">54</text>
<rect x="66.5" y="952.5" width="13.0" height="18.0" fill="#3a1a22" stroke="#6e2a36" stroke-width="1"/>
<rect x="84.5" y="958.5" width="12.0" height="12.0" fill="#3a1a22" stroke="#6e2a36" stroke-width="1"/>
<rect x="102.5" y="965.5" width="12.0" height="5.0" fill="#3a1a22" stroke="#6e2a36" stroke-width="1"/>
<rect x="120.5" y="963.5" width="12.0" height="7.0" fill="#3a1a22" stroke="#6e2a36" stroke-width="1"/>
<rect x="137.5" y="957.5" width="13.0" height="13.0" fill="#3a1a22" stroke="#6e2a36" stroke-width="1"/>
<rect x="155.5" y="948.5" width="13.0" height="22.0" fill="#3a1a22" stroke="#6e2a36" stroke-width="1"/>
<rect x="173.5" y="945.5" width="12.0" height="25.0" fill="#0a3527" stroke="#11603a" stroke-width="1"/>
<rect x="191.5" y="958.5" width="12.0" height="12.0" fill="#0a3527" stroke="#11603a" stroke-width="1"/>
<rect x="209.5" y="955.5" width="12.0" height="15.0" fill="#0a3527" stroke="#11603a" stroke-width="1"/>
<rect x="227.5" y="966.5" width="12.0" height="4.0" fill="#3a1a22" stroke="#6e2a36" stroke-width="1"/>
<rect x="244.5" y="955.5" width="13.0" height="15.0" fill="#3a1a22" stroke="#6e2a36" stroke-width="1"/>
<rect x="262.5" y="954.5" width="13.0" height="16.0" fill="#0a3527" stroke="#11603a" stroke-width="1"/>
<rect x="280.5" y="956.5" width="12.0" height="14.0" fill="#0a3527" stroke="#11603a" stroke-width="1"/>
<rect x="298.5" y="955.5" width="12.0" height="15.0" fill="#0a3527" stroke="#11603a" stroke-width="1"/>
<rect x="316.5" y="943.5" width="12.0" height="27.0" fill="#3a1a22" stroke="#6e2a36" stroke-width="1"/>
<rect x="333.5" y="940.5" width="13.0" height="30.0" fill="#3a1a22" stroke="#6e2a36" stroke-width="1"/>
<rect x="351.5" y="938.5" width="13.0" height="32.0" fill="#3a1a22" stroke="#6e2a36" stroke-width="1"/>
<rect x="369.5" y="948.5" width="12.0" height="22.0" fill="#3a1a22" stroke="#6e2a36" stroke-width="1"/>
<rect x="387.5" y="939.5" width="12.0" height="31.0" fill="#0a3527" stroke="#11603a" stroke-width="1"/>
<rect x="405.5" y="934.5" width="12.0" height="36.0" fill="#3a1a22" stroke="#6e2a36" stroke-width="1"/>
<rect x="423.5" y="935.5" width="12.0" height="35.0" fill="#3a1a22" stroke="#6e2a36" stroke-width="1"/>
<rect x="440.5" y="891.5" width="13.0" height="79.0" fill="#3a1a22" stroke="#6e2a36" stroke-width="1"/>
<rect x="458.5" y="904.5" width="13.0" height="66.0" fill="#0a3527" stroke="#11603a" stroke-width="1"/>
<rect x="476.5" y="938.5" width="12.0" height="32.0" fill="#3a1a22" stroke="#6e2a36" stroke-width="1"/>
<rect x="494.5" y="951.5" width="12.0" height="19.0" fill="#0a3527" stroke="#11603a" stroke-width="1"/>
<rect x="512.5" y="944.5" width="12.0" height="26.0" fill="#3a1a22" stroke="#6e2a36" stroke-width="1"/>
<rect x="529.5" y="948.5" width="13.0" height="22.0" fill="#3a1a22" stroke="#6e2a36" stroke-width="1"/>
<rect x="547.5" y="940.5" width="13.0" height="30.0" fill="#3a1a22" stroke="#6e2a36" stroke-width="1"/>
<rect x="565.5" y="945.5" width="12.0" height="25.0" fill="#3a1a22" stroke="#6e2a36" stroke-width="1"/>
<rect x="583.5" y="948.5" width="12.0" height="22.0" fill="#0a3527" stroke="#11603a" stroke-width="1"/>
<rect x="601.5" y="957.5" width="12.0" height="13.0" fill="#0a3527" stroke="#11603a" stroke-width="1"/>
<rect x="619.5" y="952.5" width="12.0" height="18.0" fill="#3a1a22" stroke="#6e2a36" stroke-width="1"/>
<rect x="636.5" y="952.5" width="13.0" height="18.0" fill="#0a3527" stroke="#11603a" stroke-width="1"/>
<rect x="654.5" y="952.5" width="13.0" height="18.0" fill="#3a1a22" stroke="#6e2a36" stroke-width="1"/>
<rect x="672.5" y="951.5" width="12.0" height="19.0" fill="#3a1a22" stroke="#6e2a36" stroke-width="1"/>
<rect x="690.5" y="953.5" width="12.0" height="17.0" fill="#0a3527" stroke="#11603a" stroke-width="1"/>
<rect x="708.5" y="943.5" width="12.0" height="27.0" fill="#0a3527" stroke="#11603a" stroke-width="1"/>
<rect x="725.5" y="960.5" width="13.0" height="10.0" fill="#3a1a22" stroke="#6e2a36" stroke-width="1"/>
<rect x="743.5" y="960.5" width="13.0" height="10.0" fill="#3a1a22" stroke="#6e2a36" stroke-width="1"/>
<rect x="761.5" y="937.5" width="12.0" height="33.0" fill="#3a1a22" stroke="#6e2a36" stroke-width="1"/>
<rect x="779.5" y="944.5" width="12.0" height="26.0" fill="#3a1a22" stroke="#6e2a36" stroke-width="1"/>
<rect x="797.5" y="935.5" width="12.0" height="35.0" fill="#0a3527" stroke="#11603a" stroke-width="1"/>
<rect x="815.5" y="949.5" width="12.0" height="21.0" fill="#3a1a22" stroke="#6e2a36" stroke-width="1"/>
<rect x="832.5" y="946.5" width="13.0" height="24.0" fill="#3a1a22" stroke="#6e2a36" stroke-width="1"/>
<rect x="850.5" y="939.5" width="13.0" height="31.0" fill="#0a3527" stroke="#11603a" stroke-width="1"/>
<rect x="868.5" y="944.5" width="12.0" height="26.0" fill="#3a1a22" stroke="#6e2a36" stroke-width="1"/>
<rect x="886.5" y="937.5" width="12.0" height="33.0" fill="#0a3527" stroke="#11603a" stroke-width="1"/>
<rect x="904.5" y="940.5" width="12.0" height="30.0" fill="#3a1a22" stroke="#6e2a36" stroke-width="1"/>
<rect x="921.5" y="928.5" width="13.0" height="42.0" fill="#0a3527" stroke="#11603a" stroke-width="1"/>
<rect x="939.5" y="943.5" width="13.0" height="27.0" fill="#3a1a22" stroke="#6e2a36" stroke-width="1"/>
<rect x="957.5" y="945.5" width="12.0" height="25.0" fill="#3a1a22" stroke="#6e2a36" stroke-width="1"/>
<rect x="975.5" y="959.5" width="12.0" height="11.0" fill="#3a1a22" stroke="#6e2a36" stroke-width="1"/>
<rect x="993.5" y="952.5" width="12.0" height="18.0" fill="#3a1a22" stroke="#6e2a36" stroke-width="1"/>
<rect x="1011.5" y="942.5" width="12.0" height="28.0" fill="#0a3527" stroke="#11603a" stroke-width="1"/>
<rect x="1028.5" y="939.5" width="13.0" height="31.0" fill="#0a3527" stroke="#11603a" stroke-width="1"/>
<rect x="1046.5" y="947.5" width="13.0" height="23.0" fill="#0a3527" stroke="#11603a" stroke-width="1"/>
<rect x="1064.5" y="948.5" width="12.0" height="22.0" fill="#0a3527" stroke="#11603a" stroke-width="1"/>
<rect x="1082.5" y="934.5" width="12.0" height="36.0" fill="#0a3527" stroke="#11603a" stroke-width="1"/>
<rect x="1100.5" y="961.5" width="12.0" height="9.0" fill="#0a3527" stroke="#11603a" stroke-width="1"/>
<rect x="1117.5" y="960.5" width="13.0" height="10.0" fill="#0a3527" stroke="#11603a" stroke-width="1"/>
<rect x="13" y="970" width="1170" height="3" fill="#0d1118"/>
<text x="25" y="893.1" font-family="Liberation Sans, sans-serif" font-weight="bold" font-size="12.5" fill="#8b929c" textLength="20" lengthAdjust="spacingAndGlyphs">Vol</text>
<text x="108.5" y="985.3" font-family="Liberation Sans, sans-serif" font-size="12.3" fill="#8b929c" text-anchor="middle" textLength="35.5" lengthAdjust="spacingAndGlyphs">Jan 17</text>
<text x="286.7" y="985.3" font-family="Liberation Sans, sans-serif" font-size="12.3" fill="#8b929c" text-anchor="middle" textLength="35.5" lengthAdjust="spacingAndGlyphs">Jan 27</text>
<text x="464.8" y="985.3" font-family="Liberation Sans, sans-serif" font-size="12.3" fill="#8b929c" text-anchor="middle" textLength="39" lengthAdjust="spacingAndGlyphs">Feb 06</text>
<text x="643.0" y="985.3" font-family="Liberation Sans, sans-serif" font-size="12.3" fill="#8b929c" text-anchor="middle" textLength="39" lengthAdjust="spacingAndGlyphs">Feb 16</text>
<text x="821.2" y="985.3" font-family="Liberation Sans, sans-serif" font-size="12.3" fill="#8b929c" text-anchor="middle" textLength="39" lengthAdjust="spacingAndGlyphs">Feb 26</text>
<text x="998.6" y="985.3" font-family="Liberation Sans, sans-serif" font-size="12.3" fill="#8b929c" text-anchor="middle" textLength="40" lengthAdjust="spacingAndGlyphs">Mar 08</text>
<text x="1177.6" y="985.3" font-family="Liberation Sans, sans-serif" font-size="12.3" fill="#8b929c" text-anchor="middle" textLength="40" lengthAdjust="spacingAndGlyphs">Mar 18</text>
<text x="14.5" y="31.2" font-family="Liberation Sans, sans-serif" font-weight="bold" font-size="24" fill="#ffffff" stroke="#ffffff" stroke-width="0.35" textLength="128.5" lengthAdjust="spacingAndGlyphs">BTC/USDT</text>
<text x="932.5" y="31.1" font-family="Liberation Sans, sans-serif" font-weight="bold" font-size="18.6" fill="#f04a5b" stroke="#f04a5b" stroke-width="0.25" textLength="124.5" lengthAdjust="spacingAndGlyphs">$71,488.90</text>
<polygon points="1071.6,18 1087,18 1079.3,33.1" fill="#f04a5b"/>
<text x="1094.3" y="31.1" font-family="Liberation Sans, sans-serif" font-weight="bold" font-size="18.6" fill="#f04a5b" stroke="#f04a5b" stroke-width="0.25" textLength="76" lengthAdjust="spacingAndGlyphs">-25.2%</text>
<text x="1180" y="1017.2" font-family="Liberation Sans, sans-serif" font-style="italic" font-size="13.5" fill="#292e36" textLength="79.5" lengthAdjust="spacingAndGlyphs">cryance.com</text>
</svg>
</body></html>
